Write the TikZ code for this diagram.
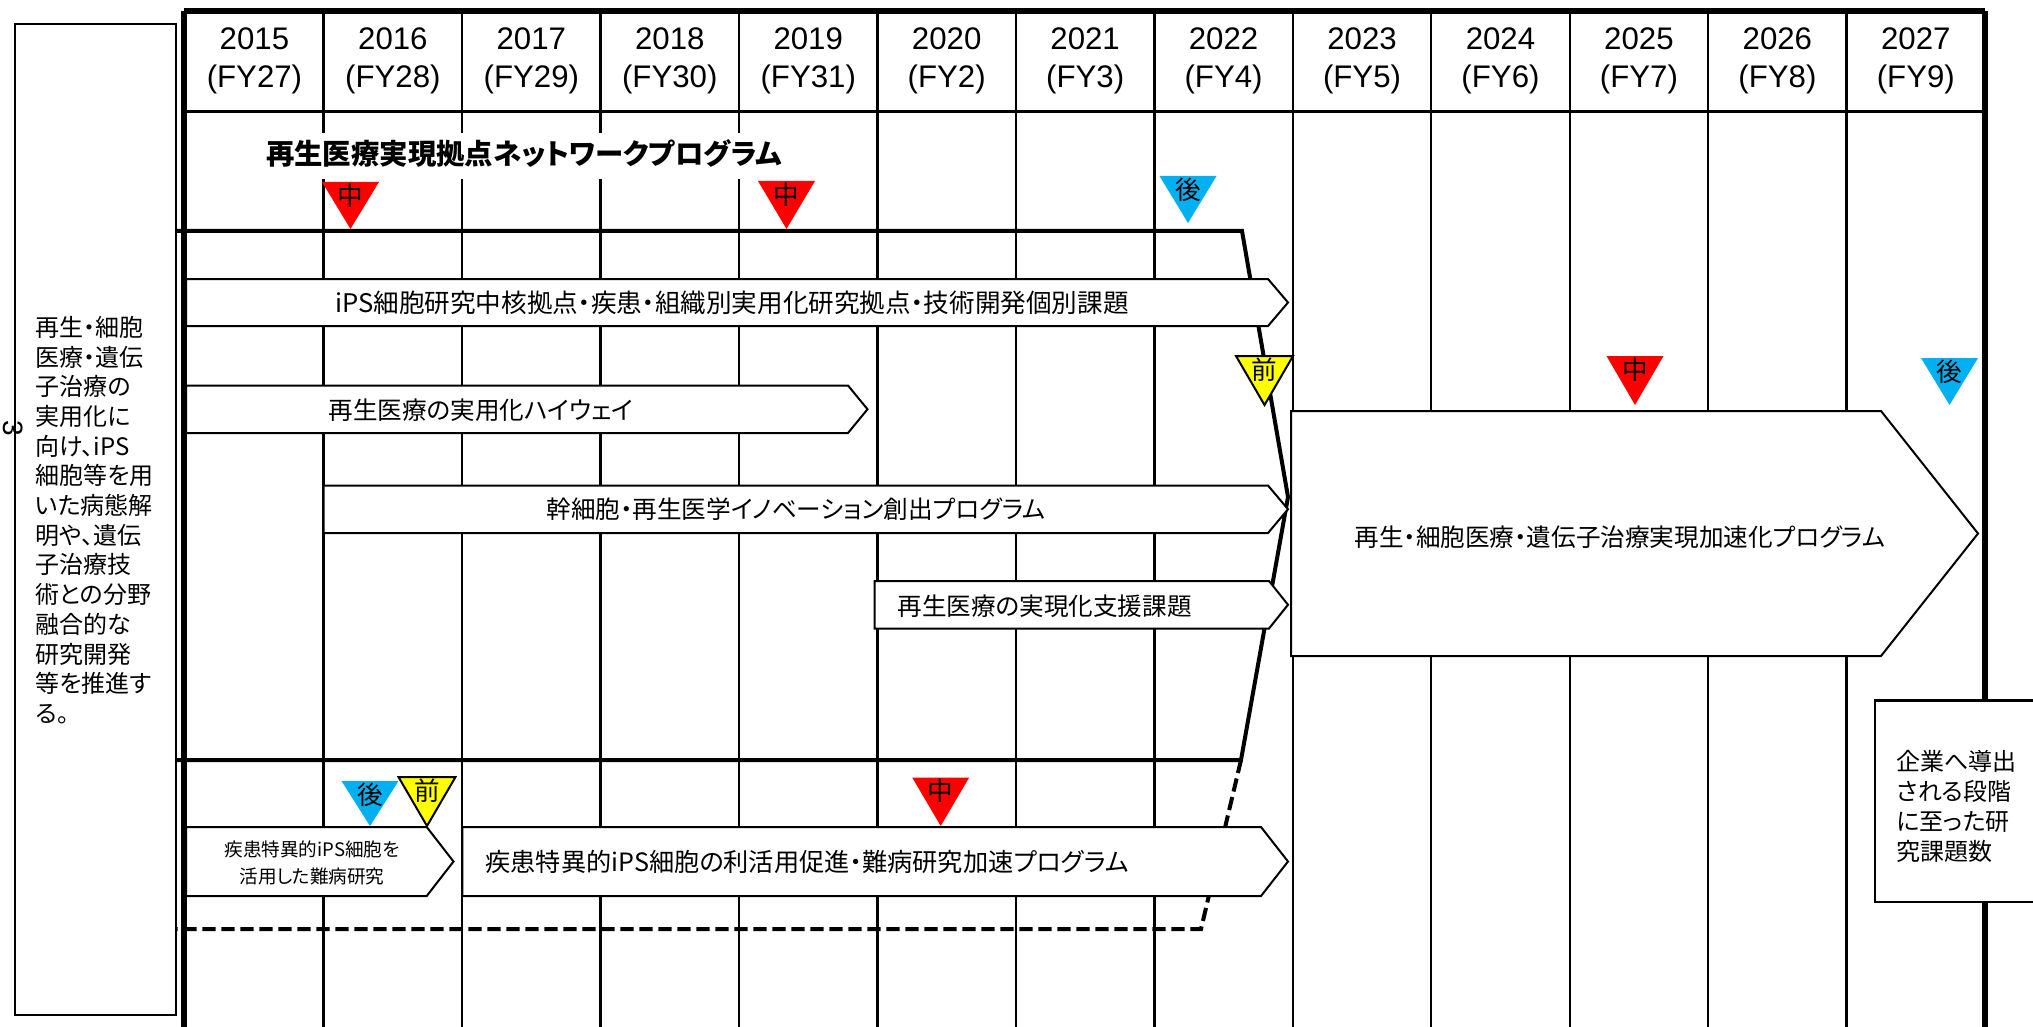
\documentclass[tikz,border=0pt]{standalone}
\usepackage{fontspec}
\setmainfont{Noto Sans CJK JP}[RawFeature={+palt}]
\newfontfamily\latf{Liberation Sans}
\definecolor{mred}{HTML}{FF0000}
\definecolor{mcyan}{HTML}{00B0F0}
\definecolor{myel}{HTML}{FFFF00}
\newcommand{\myarrow}[5]{\draw[arr] (#1,#4) -- (#2,#4) -- (#3,{(#4+#5)/2}) -- (#2,#5) -- (#1,#5) -- cycle;}
\newcommand{\mytri}[7]{%
  \path[fill=#5,#6] ({#2-28.5},#3) -- ({#2+28.5},#3) -- (#2,#4) -- cycle;
  \node[tlbl] (#1) at (#2,{#3+13.5}) {#7};}
\begin{document}
\begin{tikzpicture}[x=0.5pt,y=-0.5pt,
  gridln/.style={line width=1.2pt},
  brd/.style={line width=2.6pt},
  brk/.style={line width=2pt, line join=miter},
  arr/.style={draw, fill=white, line width=1pt, line join=miter},
  lbl/.style={inner sep=0pt, font=\fontsize{12.3}{14}\selectfont},
  tlbl/.style={inner sep=0pt, font=\fontsize{12.8}{13}\selectfont},
  yr/.style={inner sep=0pt, font=\latf\fontsize{15.6}{16}\selectfont},
  bx/.style={draw, fill=white, line width=1.2pt}]
\fill[white] (0,0) rectangle (2033,1027);
\useasboundingbox (0,0) rectangle (2033,1027);
% grid
\foreach \k in {1,...,12}
  \draw[gridln] ({185.2+138.45*\k},11) -- ({185.2+138.45*\k},1027);
\draw[line width=1.5pt] (185,112) -- (1985,112);
% header
\foreach \yr/\fy [count=\i from 0] in {2015/27,2016/28,2017/29,2018/30,2019/31,2020/2,2021/3,2022/4,2023/5,2024/6,2025/7,2026/8,2027/9}{
  \node[yr] (yr\i) at ({185.2+138.45*(\i+0.5)},38.5) {\yr};
  \node[yr] (fy\i) at ({185.2+138.45*(\i+0.5)},79) {(FY\fy)};
}
% title
\fill[white] (258,133) rectangle (790,179);
\node[inner sep=0pt, font=\bfseries\fontsize{14.2}{15}\selectfont] (title) at (524,154) {再生医療実現拠点ネットワークプログラム};
% bracket
\draw[brk] (176,231) -- (1242,231) -- (1288,497) -- (1241,760) -- (176,760);
\draw[brk, dash pattern=on 6.7pt off 2.8pt] (1241,760) -- (1201,929) -- (176,929);
% arrows
\myarrow{186}{1268}{1288}{279}{326}
\node[lbl, font=\fontsize{12.8}{14}\selectfont] (a1) at (732,303) {iPS細胞研究中核拠点・疾患・組織別実用化研究拠点・技術開発個別課題};
\myarrow{186}{848}{867.5}{385.5}{433}
\node[lbl] (a2) at (481,410) {再生医療の実用化ハイウェイ};
\myarrow{323.6}{1268}{1288}{485.5}{533}
\node[lbl] (a3) at (796,509) {幹細胞・再生医学イノベーション創出プログラム};
\myarrow{874.5}{1269}{1288}{581}{628.5}
\node[lbl, anchor=west] (a4) at (897,606) {再生医療の実現化支援課題};
\myarrow{186}{426.7}{453.5}{827}{896}
\node[inner sep=0pt, align=center, font=\fontsize{9.3}{13.5}\selectfont] (s1) at (312,863) {疾患特異的iPS細胞を\\活用した難病研究};
\myarrow{462.4}{1261}{1288}{827}{896}
\node[lbl, anchor=west, font=\fontsize{12.6}{14}\selectfont] (d1) at (485,862) {疾患特異的iPS細胞の利活用促進・難病研究加速プログラム};
\myarrow{1291}{1881}{1978}{411}{656}
\node[lbl] (b1) at (1620,537) {再生・細胞医療・遺伝子治療実現加速化プログラム};
% borders
\draw[brd] (184,11) -- (1985,11);
\draw[brd] (184,11) -- (184,1027);
\draw[brd] (1985,11) -- (1985,1027);
% company box
\draw[bx] (1875,700.5) rectangle (2045,902);
\node[anchor=west, align=left, inner sep=0pt, font=\fontsize{12}{15}\selectfont] (kig) at (1896,806) {企業へ導出\\される段階\\に至った研\\究課題数};
% triangles
\mytri{t1}{350.5}{182}{229}{mred}{draw=none}{中}
\mytri{t2}{786.5}{181}{229}{mred}{draw=none}{中}
\mytri{t3}{1188}{176}{223}{mcyan}{draw=none}{後}
\mytri{t4}{1264.5}{356}{405}{myel}{draw=black,line width=1pt}{前}
\mytri{t5}{1635}{356}{405}{mred}{draw=none}{中}
\mytri{t6}{1949.5}{358}{405}{mcyan}{draw=none}{後}
\mytri{t7}{370}{781}{826}{mcyan}{draw=none}{後}
\mytri{t8}{427}{777}{826}{myel}{draw=black,line width=1pt}{前}
\mytri{t9}{940.7}{777.5}{826}{mred}{draw=none}{中}
% left box
\draw[bx] (14.7,24) rectangle (176,1015);
\node[anchor=west, align=left, inner sep=0pt, font=\fontsize{12}{14.85}\selectfont] (goal) at (35,520) {再生・細胞\\医療・遺伝\\子治療の\\実用化に\\向け、iPS\\細胞等を用\\いた病態解\\明や、遺伝\\子治療技\\術との分野\\融合的な\\研究開発\\等を推進す\\る。};
\node[rotate=-90, inner sep=0pt, font=\latf\fontsize{14}{15}\selectfont] (three) at (13,428) {3};
\end{tikzpicture}
\end{document}
